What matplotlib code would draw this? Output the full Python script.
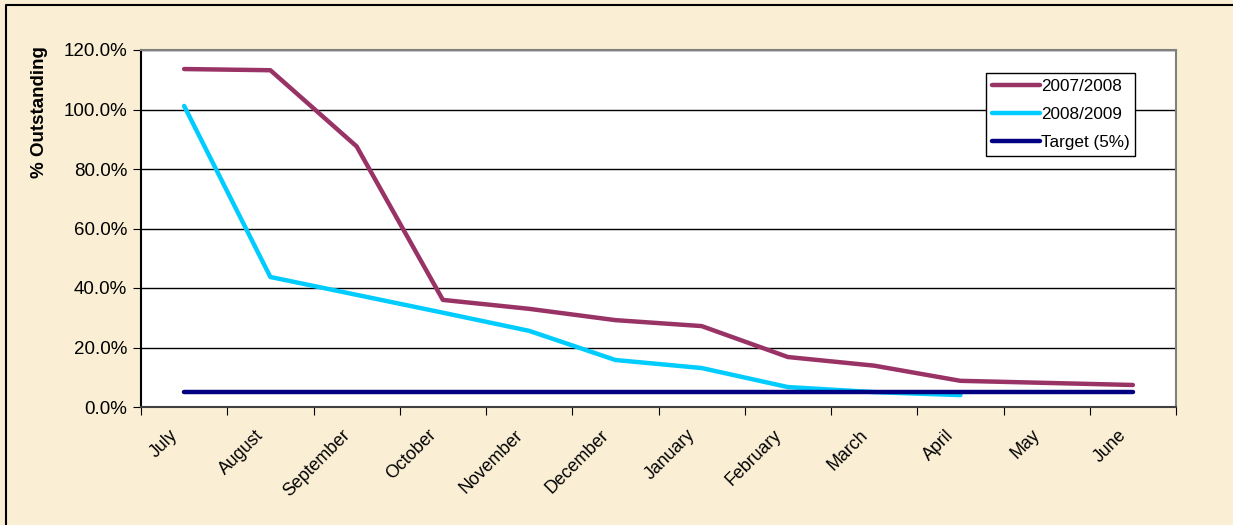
import matplotlib.pyplot as plt
from matplotlib.lines import Line2D
from matplotlib.ticker import FuncFormatter
from matplotlib.transforms import ScaledTranslation

# --- Data ---
MONTHS = ['July', 'August', 'September', 'October', 'November', 'December',
          'January', 'February', 'March', 'April', 'May', 'June']
SEASON_0708 = [113.6, 113.2, 87.6, 36.0, 33.0, 29.2, 27.2, 16.8, 13.9, 8.8, 8.1, 7.4]
SEASON_0809 = [101.2, 43.7, 37.7, 31.7, 25.6, 15.8, 13.1, 6.7, 5.0, 4.0]
TARGET = [5.0] * 12

plt.rcParams['font.family'] = ['Liberation Sans', 'DejaVu Sans']

BG = '#FAEFD4'
W, H = 1233, 525

fig = plt.figure(figsize=(W / 100, H / 100), dpi=100, facecolor=BG)
# outer chart border (only left and top edges are visible in the reference)
fig.lines.append(Line2D([6 / W, 6 / W, 1.01], [-0.01, 1 - 5 / H, 1 - 5 / H],
                        transform=fig.transFigure, color='black', linewidth=1.5))

ax = fig.add_axes([141 / W, 1 - 407 / H, (1176 - 141) / W, (407 - 50) / H])
ax.set_facecolor('white')

x = list(range(len(MONTHS)))
ax.plot(x, SEASON_0708, color='#993366', linewidth=3.2, label='2007/2008',
        solid_capstyle='round', zorder=3)
ax.plot(x[:len(SEASON_0809)], SEASON_0809, color='#00CCFF', linewidth=3.2,
        label='2008/2009', solid_capstyle='round', zorder=3)
ax.plot(x, TARGET, color='#000080', linewidth=3.2, label='Target (5%)',
        solid_capstyle='round', zorder=4)

ax.set_xlim(-0.5, len(MONTHS) - 0.5)
ax.set_ylim(0, 120)
ax.set_yticks(range(0, 121, 20))
ax.yaxis.set_major_formatter(FuncFormatter(lambda v, p: f'{v:.1f}%'))
ax.grid(axis='y', color='black', linewidth=1)
ax.set_axisbelow(True)

# category boundary ticks, labels at centers
ax.set_xticks([i - 0.5 for i in range(len(MONTHS) + 1)])
ax.set_xticklabels([])
ax.set_xticks(x, minor=True)
ax.set_xticklabels(MONTHS, minor=True, rotation=45, ha='right',
                   rotation_mode='anchor', fontsize=12.8)
ax.tick_params(axis='x', which='minor', length=0, pad=14)
ax.tick_params(axis='x', which='major', length=6, direction='out', color='black')
ax.tick_params(axis='y', length=6, direction='out', labelsize=13.5, pad=4)
shift = ScaledTranslation(-15 / 100, 0, fig.dpi_scale_trans)
for lbl in ax.get_xticklabels(minor=True):
    lbl.set_transform(lbl.get_transform() + shift)

ax.spines['left'].set_color('black')
ax.spines['bottom'].set_color('#404040')
ax.spines['top'].set_color('#808080')
ax.spines['right'].set_color('#808080')
for s in ax.spines.values():
    s.set_linewidth(1.5)

ax.set_ylabel('% Outstanding', fontsize=13.5, fontweight='bold')
ax.yaxis.set_label_coords((48 - 141) / 1035, (407 - 112) / 357)

leg = ax.legend(loc='upper left', bbox_to_anchor=((986 - 141) / 1035, (407 - 73) / 357),
                fontsize=12.3, frameon=True, fancybox=False, framealpha=1,
                edgecolor='black', handlelength=2.8, handletextpad=0.05,
                borderpad=0.35, labelspacing=0.75, borderaxespad=0)
leg.get_frame().set_linewidth(1)

fig.savefig('out.png', dpi=100, facecolor=BG)
